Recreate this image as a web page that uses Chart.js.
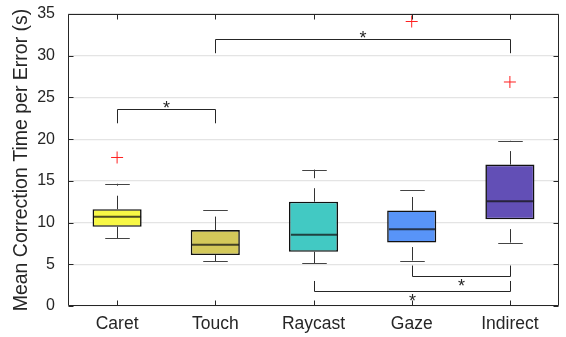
<!DOCTYPE html>
<html>
<head>
<meta charset="utf-8">
<script src="https://cdn.jsdelivr.net/npm/chart.js@4.4.1/dist/chart.umd.min.js"></script>
<style>
  html, body { margin: 0; padding: 0; background: #fff; }
</style>
</head>
<body>
<canvas id="boxChart" width="566" height="337"></canvas>
<script>
// box plot summary per method (seconds)
const methods = ['Caret', 'Touch', 'Raycast', 'Gaze', 'Indirect'];
const lowerWhisker = [8.1, 5.35, 5.15, 5.45, 7.6];
const q1 = [9.5, 6.1, 6.5, 7.6, 10.4];
const medians = [10.7, 7.35, 8.55, 9.2, 12.55];
const q3 = [11.6, 9.1, 12.5, 11.45, 16.95];
const upperWhisker = [14.65, 11.5, 16.35, 13.95, 19.8];
const boxColors = ['#f8f845', '#d4c95a', '#42c9c3', '#5894f8', '#624fb6'];

// outliers
const outlierMethod = ['Caret', 'Gaze', 'Indirect'];
const outlierValue = [17.8, 34.1, 26.85];

// significance brackets
const sigFrom = ['Caret', 'Touch', 'Gaze', 'Raycast'];
const sigTo = ['Touch', 'Indirect', 'Indirect', 'Indirect'];
const sigBar = [23.65, 31.95, 3.6, 1.8];
const sigLeg = [21.9, 30.3, 4.85, 3.0];

const yTicks = [0, 5, 10, 15, 20, 25, 30, 35];

const ink = '#262626';

function crisp(v) {
  return Math.round(v) + 0.5;
}

const boxExtras = {
  id: 'boxExtras',
  afterDatasetsDraw(chart) {
    const ctx = chart.ctx;
    const x = chart.scales.x;
    const y = chart.scales.y;
    const step = x.getPixelForValue(1) - x.getPixelForValue(0);
    const capHalf = step * 0.125;
    const boxHalf = step * 0.25;

    ctx.save();
    methods.forEach(function (m, i) {
      const cx = crisp(x.getPixelForValue(i));
      // whiskers (dashed)
      ctx.strokeStyle = '#333';
      ctx.lineWidth = 1;
      ctx.setLineDash([13.5, 10]);
      ctx.beginPath();
      ctx.moveTo(cx, y.getPixelForValue(q3[i]));
      ctx.lineTo(cx, y.getPixelForValue(upperWhisker[i]));
      ctx.moveTo(cx, y.getPixelForValue(lowerWhisker[i]));
      ctx.lineTo(cx, y.getPixelForValue(q1[i]));
      ctx.stroke();
      ctx.setLineDash([]);
      // caps
      ctx.strokeStyle = '#444';
      ctx.beginPath();
      const yu = crisp(y.getPixelForValue(upperWhisker[i]));
      const yl = crisp(y.getPixelForValue(lowerWhisker[i]));
      ctx.moveTo(cx - capHalf, yu);
      ctx.lineTo(cx + capHalf, yu);
      ctx.moveTo(cx - capHalf, yl);
      ctx.lineTo(cx + capHalf, yl);
      ctx.stroke();
      // median
      ctx.strokeStyle = 'rgba(20,20,20,0.75)';
      ctx.lineWidth = 2;
      ctx.beginPath();
      const ym = y.getPixelForValue(medians[i]);
      ctx.moveTo(cx - boxHalf + 1, ym);
      ctx.lineTo(cx + boxHalf - 1, ym);
      ctx.stroke();
    });

    // significance brackets
    ctx.strokeStyle = ink;
    ctx.fillStyle = ink;
    ctx.lineWidth = 1;
    ctx.font = '18px "Liberation Sans", Arial, sans-serif';
    ctx.textAlign = 'center';
    ctx.textBaseline = 'alphabetic';
    const star = ctx.measureText('*');
    const starMid = (star.actualBoundingBoxAscent - star.actualBoundingBoxDescent) / 2;
    sigFrom.forEach(function (f, k) {
      const x1 = crisp(x.getPixelForValue(methods.indexOf(f)));
      const x2 = crisp(x.getPixelForValue(methods.indexOf(sigTo[k])));
      const yb = crisp(y.getPixelForValue(sigBar[k]));
      const yl = y.getPixelForValue(sigLeg[k]);
      ctx.beginPath();
      ctx.moveTo(x1, yl);
      ctx.lineTo(x1, yb);
      ctx.lineTo(x2, yb);
      ctx.lineTo(x2, yl);
      ctx.stroke();
      const above = sigLeg[k] < sigBar[k];
      const sy = above ? yb - 5 : yb + 5.5;
      ctx.fillText('*', (x1 + x2) / 2, sy + starMid);
    });
    ctx.restore();
  },
  afterDraw(chart) {
    const ctx = chart.ctx;
    const a = chart.chartArea;
    const x = chart.scales.x;
    const y = chart.scales.y;
    const L = crisp(a.left), R = crisp(a.right - 1), T = crisp(a.top), B = crisp(a.bottom - 1);
    ctx.save();
    ctx.strokeStyle = ink;
    ctx.lineWidth = 1;
    ctx.beginPath();
    ctx.moveTo(L, T);
    ctx.lineTo(R, T);
    ctx.lineTo(R, B);
    ctx.lineTo(L, B);
    ctx.closePath();
    // inward ticks
    yTicks.forEach(function (v) {
      const py = crisp(y.getPixelForValue(v));
      ctx.moveTo(L, py);
      ctx.lineTo(L + 5, py);
      ctx.moveTo(R, py);
      ctx.lineTo(R - 5, py);
    });
    methods.forEach(function (m, i) {
      const px = crisp(x.getPixelForValue(i));
      ctx.moveTo(px, B);
      ctx.lineTo(px, B - 5);
      ctx.moveTo(px, T);
      ctx.lineTo(px, T + 5);
    });
    ctx.stroke();
    ctx.restore();
  }
};

const boxRanges = methods.map(function (m, i) {
  return [q1[i], q3[i]];
});

const outlierPoints = outlierMethod.map(function (m, i) {
  return { x: m, y: outlierValue[i] };
});

new Chart(document.getElementById('boxChart'), {
  type: 'bar',
  data: {
    labels: methods,
    datasets: [{
      label: 'IQR',
      data: boxRanges,
      backgroundColor: boxColors,
      borderColor: '#111',
      borderWidth: 1.6,
      borderSkipped: false,
      barPercentage: 0.5,
      categoryPercentage: 1.0,
      order: 2
    }, {
      type: 'line',
      label: 'Outliers',
      data: outlierPoints,
      showLine: false,
      clip: false,
      pointStyle: 'cross',
      pointRadius: 6,
      pointBorderColor: '#ff2020',
      pointBorderWidth: 1,
      order: 1
    }]
  },
  options: {
    responsive: false,
    animation: false,
    layout: { padding: { top: 14, right: 6, left: 0, bottom: 0 } },
    plugins: {
      legend: { display: false },
      tooltip: { enabled: false }
    },
    scales: {
      x: {
        offset: true,
        grid: { display: false, drawTicks: false },
        border: { display: false },
        ticks: {
          color: ink,
          padding: 8,
          font: { family: '"Liberation Sans", Arial, sans-serif', size: 17.5 }
        },
        afterFit: function (scale) {
          scale.height = 31;
          scale.paddingLeft = 0;
          scale.paddingRight = 0;
        }
      },
      y: {
        min: 0,
        max: 35,
        grid: { color: '#e4e4e4', lineWidth: 1.2, drawTicks: false },
        border: { display: false },
        ticks: {
          stepSize: 5,
          color: ink,
          padding: 13,
          font: { family: '"Liberation Sans", Arial, sans-serif', size: 16 }
        },
        title: {
          display: true,
          text: 'Mean Correction Time per Error (s)',
          color: ink,
          padding: { top: 10, bottom: 0 },
          font: { family: '"Liberation Sans", Arial, sans-serif', size: 19.5, lineHeight: 1.2 }
        },
        afterFit: function (scale) {
          scale.width = 68;
          scale.paddingTop = 0;
          scale.paddingBottom = 0;
        }
      }
    }
  },
  plugins: [boxExtras]
});
</script>
</body>
</html>
